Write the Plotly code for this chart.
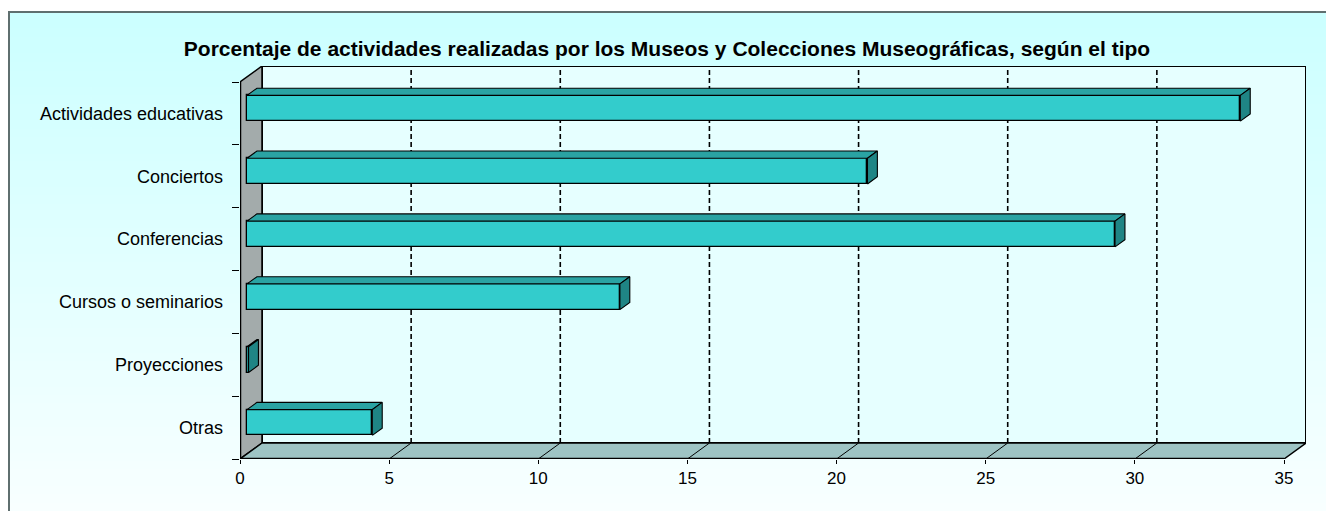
import plotly.graph_objects as go

# Data (percent of activities)
categories = ["Actividades educativas", "Conciertos", "Conferencias",
              "Cursos o seminarios", "Proyecciones", "Otras"]
values = [33.3, 20.8, 29.1, 12.5, 0.05, 4.2]
x_ticks = [0, 5, 10, 15, 20, 25, 30, 35]

TITLE = "Porcentaje de actividades realizadas por los Museos y Colecciones Museográficas, según el tipo"
FONT = "Arial, Liberation Sans, sans-serif"

# 3D look: depth of the box in data units, and where the bars sit in it
DX, DY = 0.7375, 0.2547
D0, D1 = 0.32, 0.77
BAR_H = 0.41
X_MAX = 35

FRONT = "#33CCCC"
TOP = "#2AA3A3"
SIDE = "#1F8585"

# the page body adds an 8px offset, so pixel positions are shifted by it
OFF = 8
VW, VH = 1334, 511
W, H = VW - OFF, VH - OFF
ML, MT = 240 - OFF, 66 - OFF
PW, PH = 1066, 393
MR = W - ML - PW
MB = H - MT - PH


def paper_x(px):
    return (px - OFF - ML) / PW


def paper_y(py):
    return (MT + PH - (py - OFF)) / PH


n = len(categories)
pos = [n - 1 - i for i in range(n)]

fig = go.Figure()

# front faces of the bars
fig.add_trace(go.Bar(
    orientation="h", y=[p + D0 * DY for p in pos], x=values, base=D0 * DX,
    width=BAR_H, marker=dict(color=FRONT, line=dict(color="black", width=1.3)),
    hoverinfo="skip", showlegend=False))

# top and side faces of the bars
ddx, ddy = (D1 - D0) * DX, (D1 - D0) * DY
for p, v in zip(pos, values):
    x0 = D0 * DX
    yb = p + D0 * DY - BAR_H / 2
    yt = p + D0 * DY + BAR_H / 2
    fig.add_trace(go.Scatter(
        x=[x0, x0 + v, x0 + v + ddx, x0 + ddx, x0],
        y=[yt, yt, yt + ddy, yt + ddy, yt],
        mode="lines", fill="toself", fillcolor=TOP,
        line=dict(color="black", width=1.1), hoverinfo="skip", showlegend=False))
    fig.add_trace(go.Scatter(
        x=[x0 + v, x0 + v, x0 + v + ddx, x0 + v + ddx, x0 + v],
        y=[yb, yt, yt + ddy, yb + ddy, yb],
        mode="lines", fill="toself", fillcolor=SIDE,
        line=dict(color="black", width=1.1), hoverinfo="skip", showlegend=False))

shapes = []

# chart background: vertical gradient
bands = 60
top_py, bot_py = 12, VH
for i in range(bands):
    t = i / (bands - 1)
    r = int(204 + (248 - 204) * t)
    y1 = top_py + (bot_py - top_py) * i / bands
    y2 = top_py + (bot_py - top_py) * (i + 1) / bands + 1
    shapes.append(dict(type="rect", xref="paper", yref="paper", layer="below",
                       x0=paper_x(8), x1=paper_x(VW), y0=paper_y(y2), y1=paper_y(y1),
                       fillcolor=f"rgb({r},255,255)", line=dict(width=0)))
# chart border (top and left)
shapes.append(dict(type="line", xref="paper", yref="paper", layer="below",
                   x0=paper_x(8), x1=paper_x(VW), y0=paper_y(12), y1=paper_y(12),
                   line=dict(color="#5F6F6F", width=2)))
shapes.append(dict(type="line", xref="paper", yref="paper", layer="below",
                   x0=paper_x(9), x1=paper_x(9), y0=paper_y(12), y1=paper_y(VH),
                   line=dict(color="#5F6F6F", width=2)))

y_lo, y_hi = -0.5, n - 0.5
# back wall
shapes.append(dict(type="rect", xref="x", yref="y", layer="below",
                   x0=DX, x1=X_MAX + DX, y0=y_lo + DY, y1=y_hi + DY,
                   fillcolor="#E6FFFF", line=dict(color="black", width=2)))
# dashed gridlines on the back wall
for t in x_ticks[1:-1]:
    shapes.append(dict(type="line", xref="x", yref="y", layer="below",
                       x0=t + DX, x1=t + DX, y0=y_lo + DY, y1=y_hi + DY,
                       line=dict(color="black", width=1.6, dash="5px,3px")))
# left wall
shapes.append(dict(type="path", xref="x", yref="y", layer="below",
                   path=f"M 0,{y_lo} L 0,{y_hi} L {DX},{y_hi + DY} L {DX},{y_lo + DY} Z",
                   fillcolor="#A3ABAB", line=dict(color="black", width=1.5)))
# floor
shapes.append(dict(type="path", xref="x", yref="y", layer="below",
                   path=f"M 0,{y_lo} L {X_MAX},{y_lo} L {X_MAX + DX},{y_lo + DY} L {DX},{y_lo + DY} Z",
                   fillcolor="#9EC4C4", line=dict(color="black", width=1.5)))
for t in x_ticks[1:-1]:
    shapes.append(dict(type="line", xref="x", yref="y", layer="below",
                       x0=t, x1=t + DX, y0=y_lo, y1=y_lo + DY,
                       line=dict(color="black", width=1)))
# thick front edges
shapes.append(dict(type="line", xref="x", yref="y", layer="below",
                   x0=0, x1=X_MAX, y0=y_lo, y1=y_lo, line=dict(color="black", width=2.5)))
shapes.append(dict(type="line", xref="x", yref="y", layer="below",
                   x0=0, x1=0, y0=y_lo, y1=y_hi, line=dict(color="black", width=2.5)))

fig.update_layout(
    width=W, height=H,
    margin=dict(l=ML, r=MR, t=MT, b=MB),
    paper_bgcolor="white", plot_bgcolor="rgba(0,0,0,0)",
    font=dict(family=FONT, size=17, color="black"),
    title=dict(text=f"<b>{TITLE}</b>", xref="container", x=(667 - OFF) / W, xanchor="center",
               yref="container", y=1 - (49 - OFF) / H, yanchor="middle",
               font=dict(family=FONT, size=21, color="black")),
    shapes=shapes,
    bargap=0,
)
fig.update_xaxes(range=[0, X_MAX + DX], tickvals=x_ticks, ticks="outside", ticklen=4,
                 tickcolor="black", showgrid=False, zeroline=False, showline=False,
                 tickfont=dict(size=17), ticklabelstandoff=0)
fig.update_yaxes(range=[y_lo, y_hi + DY], tickvals=pos, ticktext=categories, ticks="",
                 showgrid=False, zeroline=False, showline=False,
                 tickfont=dict(size=18), ticklabelstandoff=16,
                 minor=dict(tickvals=[y_lo + k for k in range(n + 1)], ticks="outside",
                            ticklen=7, tickcolor="black", tickwidth=1, showgrid=False))

# keep the page from scrolling so the chart fills the window
fig.write_html("out.html", post_script=(
    "document.documentElement.style.overflow='hidden';"
    "document.body.style.overflow='hidden';"))
